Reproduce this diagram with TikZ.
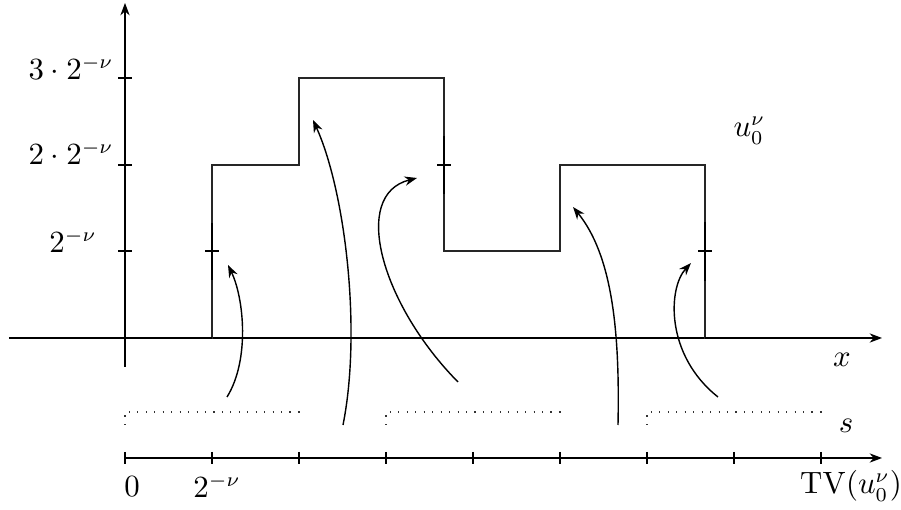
\documentclass[tikz,border=0pt]{standalone}
\usetikzlibrary{arrows.meta}
\tikzset{
  axisline/.style={line width=0.4pt,-{Stealth[length=4.4pt,width=3.3pt]}},
  fnline/.style={line width=0.45pt,black!85},
  fnthick/.style={line width=0.8pt},
  tickmark/.style={line width=0.4pt},
  curvearrow/.style={line width=0.5pt,-{Stealth[length=4.4pt,width=3.3pt]}},
  bracket/.style={line width=0.4pt,black!80,dash pattern=on 0.4pt off 2.6pt},
  lab/.style={inner sep=0pt,anchor=base,font=\fontsize{10.5}{12}\selectfont}
}
\begin{document}
\begin{tikzpicture}[x=0.355pt,y=-0.355pt]
\useasboundingbox (0,0) rectangle (901,510);
% coordinates
\coordinate (ybot) at (125,367);
\coordinate (ytop) at (125,3);
\coordinate (xl) at (9,338);
\coordinate (xr) at (882,338);
\coordinate (sl) at (125,458);
\coordinate (sr) at (882,458);
% axes
\draw[axisline] (xl) -- (xr);
\draw[axisline] (ybot) -- (ytop);
\draw[axisline] (sl) -- (sr);
% y ticks
\foreach \yy in {78,165,251} \draw[tickmark] (118,\yy) -- (132,\yy);
% s ticks
\foreach \k in {0,...,8} \draw[tickmark] (125+87*\k,452) -- (125+87*\k,464);
% step function
\draw[fnline] (96,338) -- (212,338) -- (212,165) -- (299,165) -- (299,78) -- (444,78)
  -- (444,251) -- (560,251) -- (560,165) -- (705,165) -- (705,338) -- (821,338);
\draw[line width=0.7pt] (96,338) -- (212,338);
\draw[line width=0.7pt] (705,338) -- (821,338);
% thick pieces with ticks on jumps
\draw[fnthick] (212,223) -- (212,280);
\draw[tickmark] (205,251) -- (219,251);
\draw[fnthick] (444,136) -- (444,194);
\draw[tickmark] (437,165) -- (451,165);
\draw[fnthick] (705,222) -- (705,281);
\draw[tickmark] (698,251) -- (712,251);
% dotted brackets
\draw[bracket] (125,425) -- (125,412) -- (299,412) -- (299,419);
\draw[bracket] (386,425) -- (386,412) -- (560,412) -- (560,419);
\draw[bracket] (647,425) -- (647,412) -- (821,412) -- (821,419);
% arrows
\coordinate (a1) at (227,397); \coordinate (b1) at (228,265);
\coordinate (a2) at (343,425); \coordinate (b2) at (313,120);
\coordinate (a3) at (458,382); \coordinate (b3) at (417,178);
\coordinate (a4) at (618,425); \coordinate (b4) at (573,207);
\coordinate (a5) at (718,397); \coordinate (b5) at (691,263);
\draw[curvearrow] (a1) .. controls (250,360) and (244,298) .. (b1);
\draw[curvearrow] (a2) .. controls (362,330) and (345,190) .. (b2);
\draw[curvearrow] (a3) .. controls (382,305) and (350,195) .. (b3);
\draw[curvearrow] (a4) .. controls (620,330) and (612,255) .. (b4);
\draw[curvearrow] (a5) .. controls (665,355) and (668,288) .. (b5);
% labels
\node[lab] (l3) at (71,80) {$3\cdot2^{-\nu}$};
\node[lab] (l2) at (71,165) {$2\cdot2^{-\nu}$};
\node[lab] (l1) at (73,253) {$2^{-\nu}$};
\node[lab] (s0) at (132,497) {$0$};
\node[lab] (s1) at (217,498) {$2^{-\nu}$};
\node[lab] (tv) at (851,494) {$\mathrm{TV}(u_0^\nu)$};
\node[lab] (xlab) at (842,367) {$x$};
\node[lab] (slab) at (846,433) {$s$};
\node[lab,anchor=base west] (ulab) at (733,137) {$u_0^\nu$};
\end{tikzpicture}
\end{document}
